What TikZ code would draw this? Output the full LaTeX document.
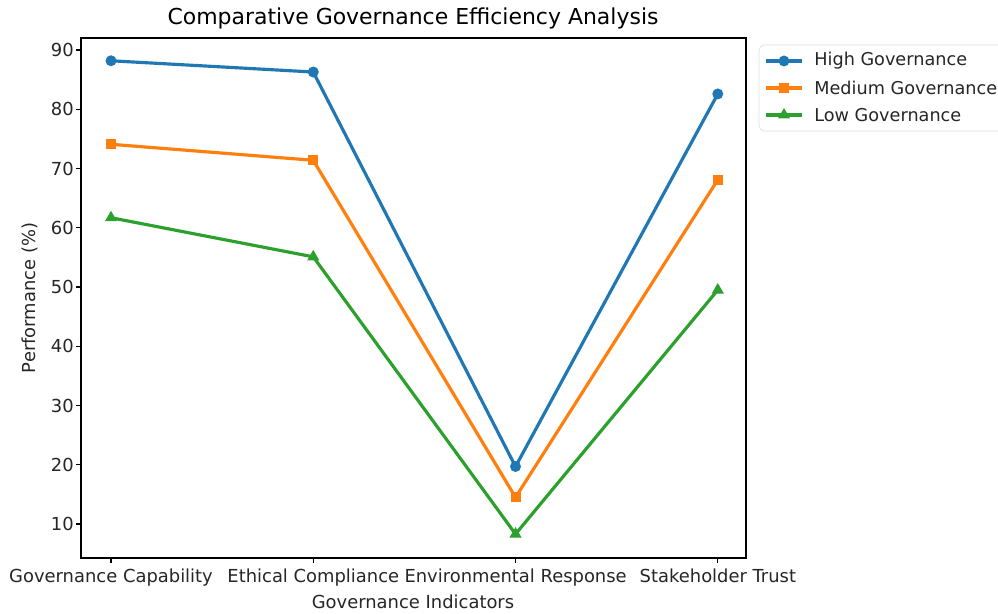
\documentclass[tikz,border=0pt]{standalone}
\usepackage{fontspec}
\setmainfont{DejaVu Sans}
\usepackage{tikz}
\usetikzlibrary{calc}
\usetikzlibrary{shapes.geometric}
\definecolor{hiblue}{HTML}{1F77B4}
\definecolor{medorange}{HTML}{FF7F0E}
\definecolor{lowgreen}{HTML}{2CA02C}
\tikzset{
  ticklabel/.style={font=\fontsize{10.2}{12}\selectfont, text=black!85, inner sep=1pt},
  legtext/.style={font=\fontsize{10.05}{12}\selectfont, text=black!85, inner sep=0pt},
  serline/.style={line width=1.8pt, line join=round},
  himark/.style={circle, fill=hiblue, inner sep=0pt, minimum size=0.22cm},
  medmark/.style={rectangle, fill=medorange, inner sep=0pt, minimum size=0.2cm},
  lowmark/.style={regular polygon, regular polygon sides=3, fill=lowgreen, inner sep=0pt, minimum size=0.28cm},
}

\begin{document}
\begin{tikzpicture}[x=0.02cm,y=-0.02cm]
\def\XL{81};\def\XR{746};\def\YT{38};\def\YB{558};
\useasboundingbox (0,0) rectangle (998,614);
\clip (0,0) rectangle (998,614);
\fill[white] (0,0) rectangle (998,614);
% frame and ticks
\draw[line width=0.6pt] (\XL,\YT) rectangle (\XR,\YB);
\foreach \v in {10,20,...,90}{
  \draw[line width=0.6pt] (\XL,{583.25-5.925*\v}) -- ++(-5,0) node[ticklabel, left] (yt\v) {\v};
}
\foreach \i/\name in {0/Governance Capability,1/Ethical Compliance,2/Environmental Response,3/Stakeholder Trust}{
  \draw[line width=0.6pt] ({111+202.3*\i},\YB) -- ++(0,5) node[ticklabel, below=2pt] (xt\i) {\name};
}
\node[ticklabel] (xlab) at (413,602) {Governance Indicators};
\node[ticklabel, rotate=90] (ylab) at (30,298) {Performance (\%)};
\node[font=\fontsize{12.5}{14}\selectfont] (title) at (413,18) {Comparative Governance Efficiency Analysis};
% data
\begin{scope}[shift={(111,583.25)}, x=4.046cm, y=0.1185cm]
\coordinate (h1) at (0,88.2); \coordinate (h2) at (1,86.3); \coordinate (h3) at (2,19.7); \coordinate (h4) at (3,82.6);
\coordinate (m1) at (0,74.1); \coordinate (m2) at (1,71.4); \coordinate (m3) at (2,14.5); \coordinate (m4) at (3,68.1);
\coordinate (l1) at (0,61.7); \coordinate (l2) at (1,55.1); \coordinate (l3) at (2,8.3); \coordinate (l4) at (3,49.5);
\draw[serline, hiblue] (h1)--(h2)--(h3)--(h4);
\foreach \k in {1,...,4} \node[himark] (hm\k) at (h\k) {};
\draw[serline, medorange] (m1)--(m2)--(m3)--(m4);
\foreach \k in {1,...,4} \node[medmark] (mm\k) at (m\k) {};
\draw[serline, lowgreen] (l1)--(l2)--(l3)--(l4);
\foreach \k in {1,...,4} \node[lowmark] (lm\k) at (l\k) {};
\end{scope}
% legend
\draw[gray!25, fill=white, rounded corners=3pt] (759,45) rectangle (1010,131);
\foreach \c/\m/\t/\y/\n in {hiblue/himark/High Governance/61/a, medorange/medmark/Medium Governance/88/b, lowgreen/lowmark/Low Governance/115/c}{
  \coordinate (la\n) at (766,\y); \coordinate (lb\n) at (802,\y);
  \draw[serline, \c] (la\n) -- (lb\n);
  \node[\m] (lk\n) at ($(la\n)!0.5!(lb\n)$) {};
  \node[legtext, anchor=west] (lt\n) at (814,\y) {\t};
}
\end{tikzpicture}
\end{document}
